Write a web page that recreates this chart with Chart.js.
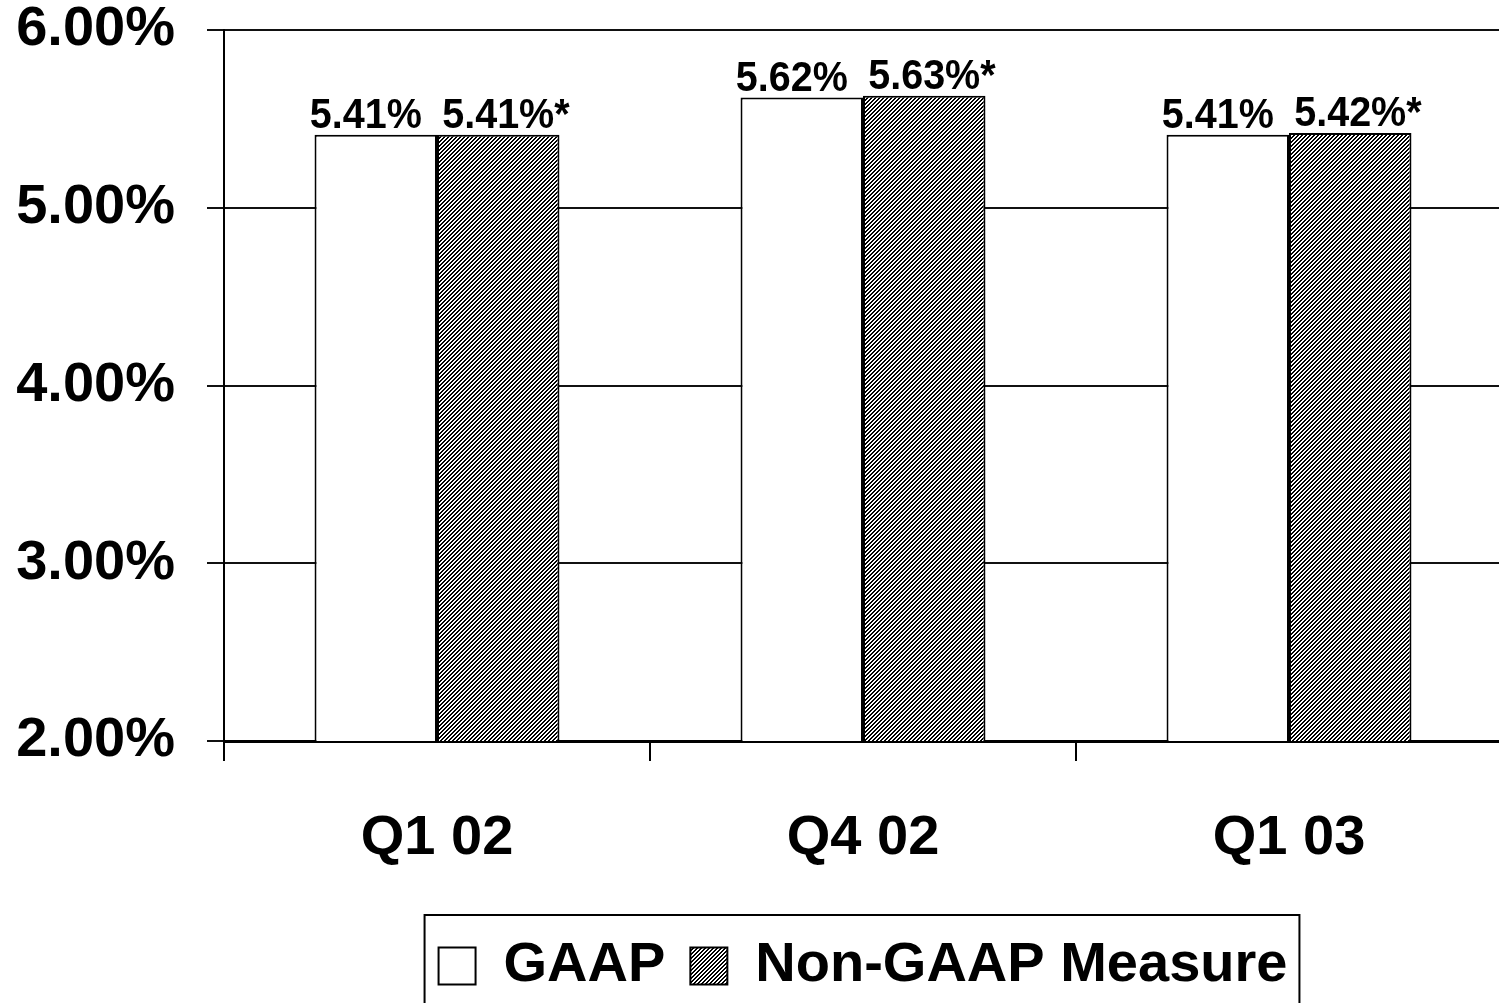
<!DOCTYPE html>
<html lang="en">
<head>
  <meta charset="UTF-8">
  <title>GAAP vs Non-GAAP</title>
  <script src="https://cdn.jsdelivr.net/npm/chart.js"></script>
  <style>
    html, body { margin: 0; padding: 0; overflow: hidden; background: #fff; }
    #wrap { width: 1499px; height: 1003px; overflow: hidden; }
  </style>
</head>
<body>
  <div id="wrap">
    <canvas id="chart" width="1502" height="1004"></canvas>
  </div>

  <script>
    // data
    const quarters = ['Q1 02', 'Q4 02', 'Q1 03'];
    const gaap = [5.41, 5.62, 5.41];
    const nonGaap = [5.41, 5.63, 5.42];
    const seriesNames = ['GAAP', 'Non-GAAP Measure'];
    const labelSuffix = ['', '*'];
    const yTicks = [2, 3, 4, 5, 6];

    const FONT = "'Liberation Sans', Arial, sans-serif";

    // fine diagonal hatch for the second series
    function hatch() {
      const c = document.createElement('canvas');
      c.width = 4; c.height = 4;
      const g = c.getContext('2d');
      g.fillStyle = '#fff';
      g.fillRect(0, 0, 4, 4);
      g.fillStyle = '#000';
      for (let x = 0; x < 4; x++) {
        for (let y = 0; y < 4; y++) {
          if ((x + y) % 4 < 2) g.fillRect(x, y, 1, 1);
        }
      }
      return g.createPattern(c, 'repeat');
    }

    // value labels above the bars (slightly condensed like the original)
    const barLabels = {
      id: 'barLabels',
      afterDatasetsDraw(chart) {
        const ctx = chart.ctx;
        ctx.save();
        ctx.font = 'bold 42px ' + FONT;
        ctx.fillStyle = '#000';
        ctx.textBaseline = 'alphabetic';
        ctx.textAlign = 'left';
        const sx = 0.94;
        chart.data.datasets.forEach((ds, i) => {
          chart.getDatasetMeta(i).data.forEach((bar, j) => {
            const num = ds.data[j].toFixed(2) + '%';
            const w = ctx.measureText(num).width * sx;
            const shift = i === 0 ? -10 : 0;
            ctx.save();
            ctx.translate(bar.x - w / 2 + shift, bar.y - 7);
            ctx.scale(sx, 1);
            ctx.fillText(num + labelSuffix[i], 0, 0);
            ctx.restore();
          });
        });
        ctx.restore();
      }
    };

    // frame around the legend
    const legendFrame = {
      id: 'legendFrame',
      afterDraw(chart) {
        const lg = chart.legend;
        if (!lg || !lg.legendHitBoxes.length) return;
        const hb = lg.legendHitBoxes;
        const left = hb[0].left - 14;
        const last = hb[hb.length - 1];
        const right = last.left + last.width + 12;
        const ctx = chart.ctx;
        ctx.save();
        ctx.strokeStyle = '#000';
        ctx.lineWidth = 2;
        ctx.strokeRect(left, lg.top + 2, right - left, chart.height);
        ctx.restore();
      }
    };

    const ctx = document.getElementById('chart').getContext('2d');
    new Chart(ctx, {
      type: 'bar',
      data: {
        labels: quarters,
        datasets: [{
          label: seriesNames[0],
          data: gaap,
          backgroundColor: '#fff',
          borderColor: '#000',
          borderWidth: 2,
          borderSkipped: false
        }, {
          label: seriesNames[1],
          data: nonGaap,
          backgroundColor: hatch(),
          borderColor: '#000',
          borderWidth: 2,
          borderSkipped: false
        }]
      },
      options: {
        responsive: false,
        animation: false,
        devicePixelRatio: 1,
        layout: { padding: 0 },
        datasets: { bar: { categoryPercentage: 0.575, barPercentage: 1 } },
        scales: {
          x: {
            offset: true,
            grid: { display: true, drawOnChartArea: false, offset: true, color: '#000', lineWidth: 2, tickLength: 20 },
            border: { color: '#000', width: 3 },
            ticks: { color: '#000', padding: 44, font: { family: FONT, size: 56, weight: 'bold' } },
            afterFit(s) { s.height = 172; }
          },
          y: {
            min: 2,
            max: 6,
            afterBuildTicks(s) { s.ticks = yTicks.map(v => ({ value: v })); },
            grid: { color: '#111', lineWidth: 2, tickLength: 17 },
            border: { color: '#000', width: 2 },
            ticks: {
              color: '#000',
              padding: 32,
              font: { family: FONT, size: 56, weight: 'bold', lineHeight: 1 },
              callback: v => v.toFixed(2) + '%'
            },
            afterFit(s) {
              s.width = 224;
              s.paddingTop = 30;
              s.paddingBottom = 30;
            }
          }
        },
        plugins: {
          legend: {
            position: 'bottom',
            fullSize: false,
            labels: {
              color: '#000',
              boxWidth: 37,
              boxHeight: 37,
              padding: 25,
              font: { family: FONT, size: 56, weight: 'bold' }
            }
          },
          tooltip: { enabled: false }
        }
      },
      plugins: [barLabels, legendFrame]
    });
  </script>
</body>
</html>
